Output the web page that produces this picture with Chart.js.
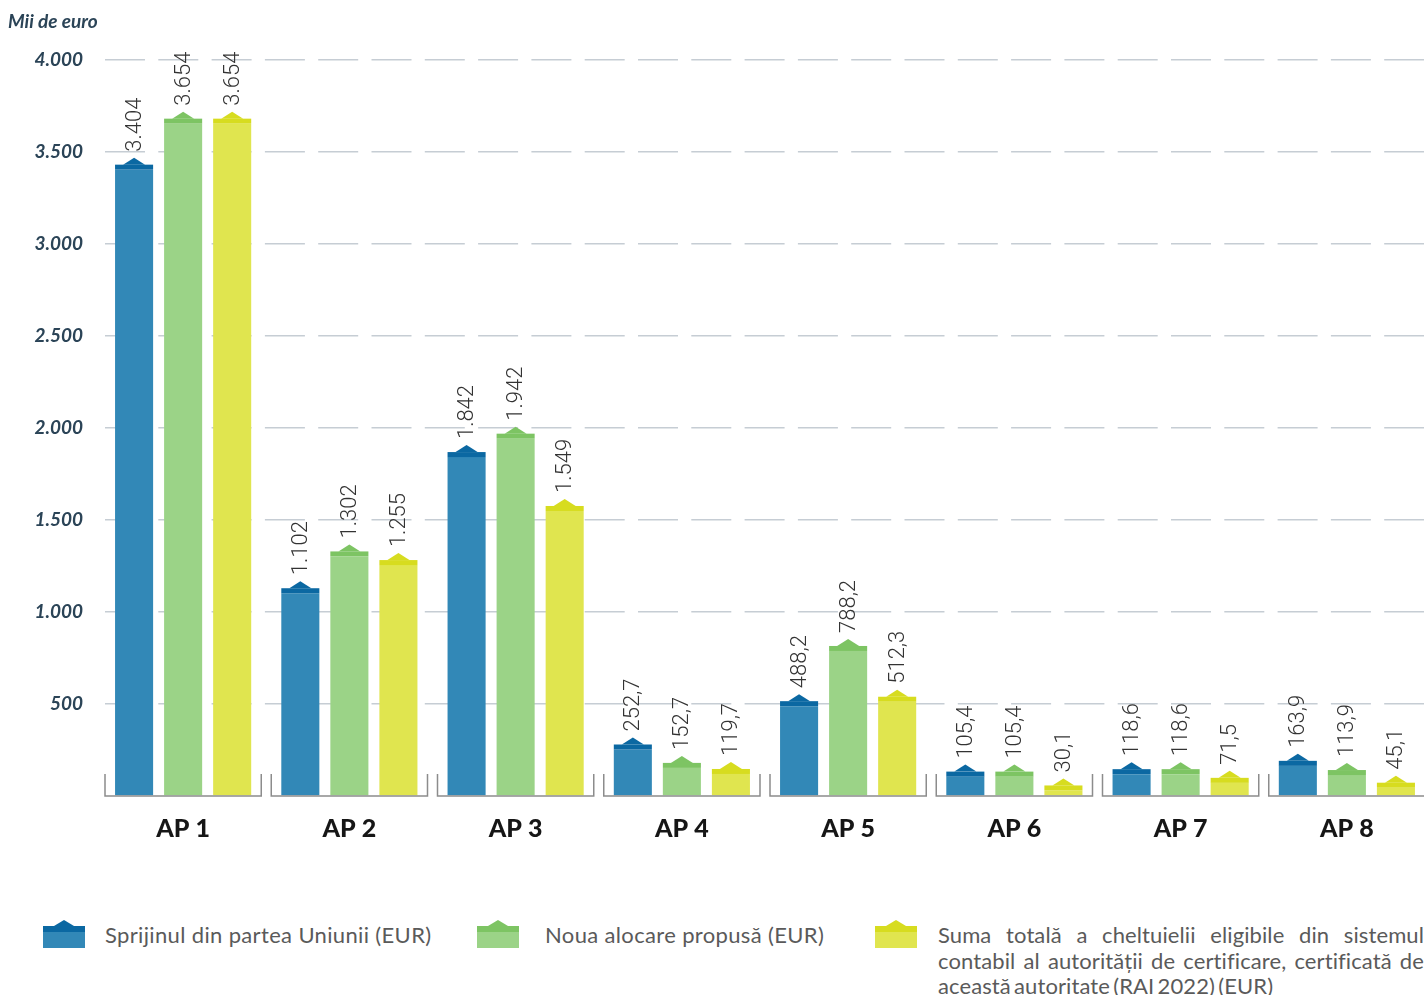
<!DOCTYPE html>
<html>
<head>
<meta charset="utf-8">
<script src="https://cdn.jsdelivr.net/npm/chart.js@4.4.0/dist/chart.umd.min.js"></script>
<style>
  html, body { margin: 0; padding: 0; background: #fff; overflow: hidden; }
  #wrap { position: relative; width: 1424px; height: 995px; }
  #chart { position: absolute; left: 0; top: 0; }
  .unit { position: absolute; left: 8px; top: 9px; font: italic bold 19px Lato, sans-serif; color: #2b4457; }
  .leg { position: absolute; font: 400 22px Lato, sans-serif; letter-spacing: 0.35px; color: #5a5a5a; line-height: 25.5px; }
  #legend svg { position: absolute; }
</style>
</head>
<body>
<div id="wrap">
  <canvas id="chart" width="1432" height="862"></canvas>
  <div class="unit">Mii de euro</div>
  <div id="legend"></div>
</div>
<script>
// categories and values (thousand euro)
var categories = ['AP 1', 'AP 2', 'AP 3', 'AP 4', 'AP 5', 'AP 6', 'AP 7', 'AP 8'];
var unionSupport = [3404, 1102, 1842, 252.7, 488.2, 105.4, 118.6, 163.9];
var newAllocation = [3654, 1302, 1942, 152.7, 788.2, 105.4, 118.6, 113.9];
var totalEligible = [3654, 1255, 1549, 119.7, 512.3, 30.1, 71.5, 45.1];
var seriesNames = [
    'Sprijinul din partea Uniunii (EUR)',
    'Noua alocare propusă (EUR)',
    'Suma totală a cheltuielii eligibile din sistemul contabil al autorității de certificare, certificată de această autoritate (RAI 2022) (EUR)'
];
var yTicks = [500, 1000, 1500, 2000, 2500, 3000, 3500, 4000];

var bodyColors = ['#3288b7', '#9bd387', '#e0e54f'];
var capColors = ['#0b68a2', '#7dc463', '#d7dc1f'];

// romanian style number: 3.404 / 252,7
function fmt(v) {
    var parts = String(v).split('.');
    var int = parts[0].replace(/\B(?=(\d{3})+(?!\d))/g, '.');
    return parts.length > 1 ? int + ',' + parts[1] : int;
}

// darker band + little roof on every bar, and the rotated value above it
var capPlugin = {
    id: 'caps',
    afterDatasetsDraw: function (chart) {
        var ctx = chart.ctx;
        chart.data.datasets.forEach(function (ds, di) {
            var meta = chart.getDatasetMeta(di);
            meta.data.forEach(function (bar, i) {
                var half = bar.width / 2;
                ctx.save();
                ctx.fillStyle = capColors[di];
                ctx.fillRect(bar.x - half, bar.y - 5, bar.width, 5);
                ctx.beginPath();
                ctx.moveTo(bar.x - 11, bar.y - 5);
                ctx.lineTo(bar.x, bar.y - 12);
                ctx.lineTo(bar.x + 11, bar.y - 5);
                ctx.closePath();
                ctx.fill();

                ctx.translate(bar.x, bar.y - 18);
                ctx.rotate(-Math.PI / 2);
                ctx.fillStyle = '#333';
                ctx.font = '300 22px Roboto, sans-serif';
                ctx.textAlign = 'left';
                ctx.textBaseline = 'middle';
                ctx.fillText(fmt(ds.data[i]), 0, 1);
                ctx.restore();
            });
        });
    }
};

// bracket-shaped baseline under each category
var bracketPlugin = {
    id: 'brackets',
    afterDatasetsDraw: function (chart) {
        var ctx = chart.ctx;
        var x = chart.scales.x, y = chart.scales.y;
        var base = y.getPixelForValue(0);
        var half = x.width / categories.length / 2 - 5;
        ctx.save();
        ctx.strokeStyle = '#8c8c8c';
        ctx.lineWidth = 1.5;
        categories.forEach(function (c, i) {
            var cx = x.getPixelForValue(i);
            ctx.beginPath();
            ctx.moveTo(cx - half, base - 22);
            ctx.lineTo(cx - half, base);
            ctx.lineTo(cx + half, base);
            ctx.lineTo(cx + half, base - 22);
            ctx.stroke();
        });
        ctx.restore();
    }
};

var datasets = [unionSupport, newAllocation, totalEligible].map(function (vals, i) {
    return {
        label: seriesNames[i],
        data: vals,
        backgroundColor: bodyColors[i],
        borderWidth: 0,
        categoryPercentage: 0.885,
        barPercentage: 0.776
    };
});

new Chart(document.getElementById('chart'), {
    type: 'bar',
    data: { labels: categories, datasets: datasets },
    options: {
        responsive: false,
        animation: false,
        layout: { padding: { top: 60, right: 2, left: 0, bottom: 0 } },
        plugins: {
            legend: { display: false },
            tooltip: { enabled: false }
        },
        scales: {
            x: {
                grid: { display: false },
                border: { display: false },
                afterFit: function (s) { s.height = 66; },
                ticks: {
                    autoSkip: false,
                    maxRotation: 0,
                    padding: 10,
                    color: '#161616',
                    font: { family: 'Lato', size: 25, weight: '900' }
                }
            },
            y: {
                min: 0,
                max: 4000,
                afterFit: function (s) { s.width = 100; },
                afterBuildTicks: function (s) {
                    s.ticks = [0].concat(yTicks).map(function (v) { return { value: v }; });
                },
                grid: {
                    drawTicks: false,
                    color: function (c) { return c.tick.value === 0 ? 'rgba(0,0,0,0)' : '#c6cdd4'; },
                    lineWidth: 1.5
                },
                border: { display: false, dash: [40, 13.3], dashOffset: 48.3 },
                ticks: {
                    padding: 17,
                    color: '#2b4457',
                    font: { family: 'Lato', size: 19, style: 'italic', weight: 'bold' },
                    callback: function (v) { return v === 0 ? '' : fmt(v); }
                }
            }
        }
    },
    plugins: [capPlugin, bracketPlugin]
});

// legend built from the same series names and colours
var legendPos = [
    { icon: 43, text: 105, width: 360 },
    { icon: 477, text: 545, width: 320 },
    { icon: 875, text: 938, width: 486 }
];
var legend = document.getElementById('legend');
seriesNames.forEach(function (name, i) {
    var p = legendPos[i];
    var svg = '<svg width="42" height="28" style="left:' + p.icon + 'px;top:920px">' +
        '<rect x="0" y="12" width="42" height="16" fill="' + bodyColors[i] + '"/>' +
        '<rect x="0" y="6" width="42" height="6" fill="' + capColors[i] + '"/>' +
        '<polygon points="11,6 21,0 31,6" fill="' + capColors[i] + '"/></svg>';
    legend.insertAdjacentHTML('beforeend', svg);
    var d = document.createElement('div');
    d.className = 'leg';
    d.style.left = p.text + 'px';
    d.style.top = '922px';
    d.style.width = p.width + 'px';
    if (i === 2) {
        d.style.textAlign = 'justify';
        d.style.letterSpacing = '0.1px';
        d.style.wordSpacing = '-2.5px';
    }
    d.textContent = name;
    legend.appendChild(d);
});
</script>
</body>
</html>
